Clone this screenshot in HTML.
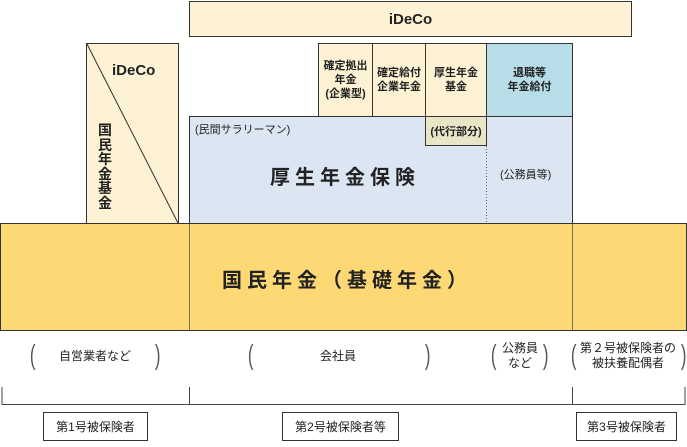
<!DOCTYPE html>
<html><head><meta charset="utf-8"><style>
body{margin:0;width:687px;height:447px;background:#fff;position:relative;overflow:hidden;font-family:"Liberation Sans","Noto Sans CJK JP",sans-serif;color:#222}
.b{position:absolute;box-sizing:border-box;border:1px solid #333;display:flex;align-items:center;justify-content:center;text-align:center}
.t{position:absolute;text-align:center;white-space:nowrap}
.p{position:absolute;top:341px;font-size:28px;line-height:28px;color:#555;transform:scaleX(0.6)}
.v{position:absolute;left:96px;width:18px;text-align:center;font-size:14px;line-height:14px;font-weight:bold}
</style></head><body>
<div class="b" style="left:189px;top:1px;width:443px;height:36px;background:#fdf2d3;font-weight:bold;font-size:15px">iDeCo</div>
<div class="b" style="left:86px;top:43px;width:93px;height:181px;background:#fdf2d3"></div>
<div class="b" style="left:189px;top:116px;width:384px;height:108px;background:#dce6f2"></div>
<div class="b" style="left:318px;top:43px;width:55px;height:74px;background:#fdf2d3;font-size:11px;font-weight:bold;line-height:14px">確定拠出<br>年金<br>(企業型)</div>
<div class="b" style="left:372px;top:43px;width:54px;height:74px;background:#fdf2d3;font-size:11px;font-weight:bold;line-height:14px">確定給付<br>企業年金</div>
<div class="b" style="left:425px;top:43px;width:62px;height:74px;background:#fdf2d3;font-size:11px;font-weight:bold;line-height:14px">厚生年金<br>基金</div>
<div class="b" style="left:486px;top:43px;width:87px;height:74px;background:#b7dde8;font-size:11px;font-weight:bold;line-height:14px">退職等<br>年金給付</div>
<div class="b" style="left:425px;top:116px;width:62px;height:30px;background:#ebe5c8;font-size:11px;font-weight:bold">(代行部分)</div>
<div class="b" style="left:0;top:223px;width:687px;height:108px;background:#fdd975"></div>
<svg style="position:absolute;left:0;top:0" width="687" height="447">
<line x1="87" y1="44" x2="178" y2="223" stroke="#333" stroke-width="1"/>
<line x1="486.5" y1="146" x2="486.5" y2="223" stroke="#666" stroke-dasharray="1,2"/>
<line x1="189.5" y1="224" x2="189.5" y2="330" stroke="#555" stroke-width="0.8"/>
<line x1="572.5" y1="224" x2="572.5" y2="330" stroke="#555" stroke-width="0.8"/>
<polyline points="2,387 2,404.5 685,404.5 685,387" fill="none" stroke="#444"/>
<line x1="189.5" y1="387" x2="189.5" y2="404" stroke="#444"/>
<line x1="572.5" y1="387" x2="572.5" y2="404" stroke="#444"/>
</svg>
<div class="t" style="left:112px;top:62px;font-size:15px;font-weight:bold">iDeCo</div>
<div class="v" style="top:123px">国</div>
<div class="v" style="top:137.5px">民</div>
<div class="v" style="top:152px">年</div>
<div class="v" style="top:166.5px">金</div>
<div class="v" style="top:181px">基</div>
<div class="v" style="top:195.5px">金</div>
<div class="t" style="left:195px;top:121px;font-size:11px">(民間サラリーマン)</div>
<div class="t" style="left:270px;top:161px;font-size:20px;font-weight:bold;letter-spacing:5px">厚生年金保険</div>
<div class="t" style="left:500px;top:166px;font-size:11px">(公務員等)</div>
<div class="t" style="left:222px;top:264px;font-size:20px;font-weight:bold;letter-spacing:5px">国民年金（基礎年金）</div>
<div class="p" style="left:28px">(</div>
<div class="t" style="left:59px;top:347px;font-size:12px">自営業者など</div>
<div class="p" style="left:153px">)</div>
<div class="p" style="left:246px">(</div>
<div class="t" style="left:320px;top:347px;font-size:12px">会社員</div>
<div class="p" style="left:423px">)</div>
<div class="p" style="left:489px">(</div>
<div class="t" style="left:502px;top:341px;font-size:12px;line-height:15px">公務員<br>など</div>
<div class="p" style="left:541px">)</div>
<div class="p" style="left:569px">(</div>
<div class="t" style="left:580px;top:341px;font-size:12px;line-height:15px">第２号被保険者の<br>被扶養配偶者</div>
<div class="p" style="left:679px">)</div>
<div class="b" style="left:43px;top:412px;width:105px;height:29px;font-size:12px;background:#fff">第1号被保険者</div>
<div class="b" style="left:282px;top:412px;width:117px;height:29px;font-size:12px;background:#fff">第2号被保険者等</div>
<div class="b" style="left:576px;top:412px;width:101px;height:29px;font-size:12px;background:#fff">第3号被保険者</div>
</body></html>
